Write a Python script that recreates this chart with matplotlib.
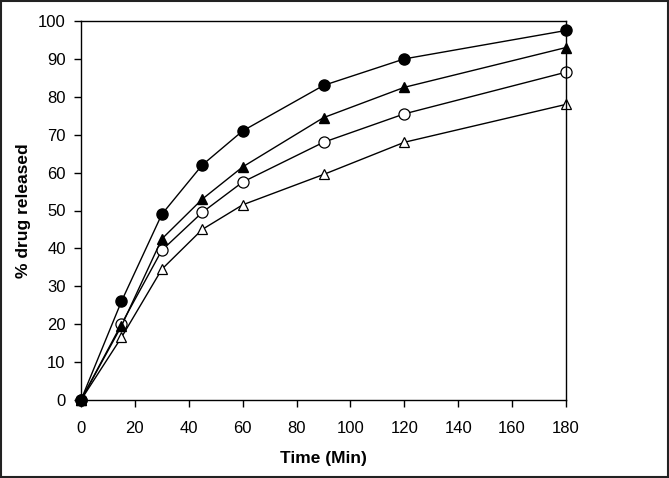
import matplotlib
matplotlib.use('Agg')
from matplotlib import pyplot as plt
from matplotlib.patches import Rectangle

time = [0, 15, 30, 45, 60, 90, 120, 180]
filled_circle = [0, 26, 49, 62, 71, 83, 90, 97.5]
filled_triangle = [0, 19.5, 42.5, 53, 61.5, 74.5, 82.5, 93]
open_circle = [0, 20, 39.5, 49.5, 57.5, 68, 75.5, 86.5]
open_triangle = [0, 16.5, 34.5, 45, 51.5, 59.5, 68, 78]

plt.rcParams['font.family'] = ['Liberation Sans', 'DejaVu Sans']

fig = plt.figure(figsize=(6.69, 4.78), dpi=100)
ax = fig.add_axes([81 / 669, 1 - 400 / 478, (566 - 81) / 669, (400 - 21) / 478])

lw = 1.0
ax.plot(time, open_triangle, '-^', color='black', mfc='white', mec='black', ms=6.5, lw=lw, mew=0.9)
ax.plot(time, open_circle, '-o', color='black', mfc='white', mec='black', ms=8, lw=lw, mew=0.9)
ax.plot(time, filled_triangle, '-^', color='black', ms=6.5, lw=lw)
ax.plot(time, filled_circle, '-o', color='black', ms=8, lw=lw)

ax.set_xlim(0, 180)
ax.set_ylim(0, 100)
ax.set_xticks(range(0, 181, 20))
ax.set_yticks(range(0, 101, 10))
ax.tick_params(direction='out', length=5, width=1, labelsize=12, pad=6)
ax.tick_params(axis='x', pad=10)
for s in ax.spines.values():
    s.set_linewidth(1)
for line in ax.get_lines():
    line.set_clip_on(False)

ax.set_xlabel('Time (Min)', fontsize=12.5, fontweight='bold', labelpad=11)
ax.set_ylabel('% drug released', fontsize=12.5, fontweight='bold', labelpad=5)

fig.patches.append(Rectangle((0.002, 0.003), 0.996, 0.994, transform=fig.transFigure,
                             fill=False, edgecolor='#222222', linewidth=1.5))

fig.savefig('out.png', dpi=100)
